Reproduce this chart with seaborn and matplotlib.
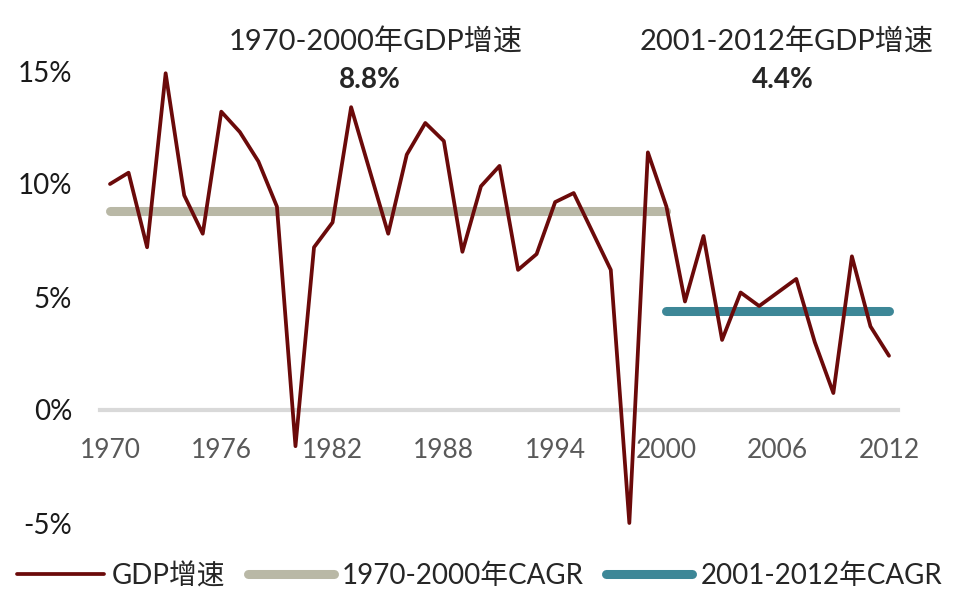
import numpy as np
import pandas as pd
import matplotlib
matplotlib.use("Agg")
import matplotlib.pyplot as plt
import seaborn as sns
from matplotlib.ticker import FuncFormatter

# ===================== DATA =====================
years = list(range(1970, 2013))
gdp_growth = [10.0, 10.5, 7.2, 14.9, 9.5, 7.8, 13.2, 12.3, 11.0, 9.0,
              -1.6, 7.2, 8.3, 13.4, 10.6, 7.8, 11.3, 12.7, 11.9, 7.0,
              9.9, 10.8, 6.2, 6.9, 9.2, 9.6, 7.9, 6.2, -5.0, 11.4,
              9.0, 4.8, 7.7, 3.1, 5.2, 4.6, 5.2, 5.8, 3.0, 0.75,
              6.8, 3.7, 2.4]

cagr1_years = [1970, 2000]
cagr1_value = 8.8
cagr2_years = [2000, 2012]
cagr2_value = 4.4

xtick_years = [1970, 1976, 1982, 1988, 1994, 2000, 2006, 2012]
ytick_vals = [-5, 0, 5, 10, 15]

legend_labels = ["GDP增速", "1970-2000年CAGR", "2001-2012年CAGR"]
title1 = "1970-2000年GDP增速"
title2 = "2001-2012年GDP增速"

# ===================== STYLE =====================
sns.set_style("white")
plt.rcParams['font.family'] = ['Lato', 'Noto Sans CJK SC', 'DejaVu Sans']

c_gdp = "#6b0a0a"
c_cagr1 = "#b9b8a6"
c_cagr2 = "#3d8797"

df = pd.DataFrame({"year": years, "gdp": gdp_growth})
df1 = pd.DataFrame({"year": cagr1_years, "v": [cagr1_value] * 2})
df2 = pd.DataFrame({"year": cagr2_years, "v": [cagr2_value] * 2})

fig = plt.figure(figsize=(9.6, 6.16), dpi=100)
ax = fig.add_axes([100 / 960, 1 - 523 / 616, 798 / 960, (523 - 71) / 616])

sns.lineplot(data=df1, x="year", y="v", ax=ax, color=c_cagr1, linewidth=6.5,
             solid_capstyle="round", label=legend_labels[1])
sns.lineplot(data=df2, x="year", y="v", ax=ax, color=c_cagr2, linewidth=6.5,
             solid_capstyle="round", label=legend_labels[2])
sns.lineplot(data=df, x="year", y="gdp", ax=ax, color=c_gdp, linewidth=2.7,
             label=legend_labels[0])

ax.set_xlim(1970 - 10 / 18.55, 2012 + 9 / 18.55)
ax.set_ylim(-5, 15)
for ln in ax.get_lines():
    ln.set_clip_on(False)

ax.set_xticks(xtick_years)
ax.set_xticklabels([str(y) for y in xtick_years])
ax.set_yticks(ytick_vals)
ax.yaxis.set_major_formatter(FuncFormatter(lambda v, p: f"{v:.0f}%"))
ax.tick_params(axis="x", length=0, pad=20, labelsize=19, colors="#595959")
ax.tick_params(axis="y", length=0, pad=20, labelsize=20, colors="#1a1a1a")

ax.set_xlabel("")
ax.set_ylabel("")
for s in ["top", "right", "left"]:
    ax.spines[s].set_visible(False)
ax.spines["bottom"].set_position(("data", 0))
ax.spines["bottom"].set_color("#d9d9d9")
ax.spines["bottom"].set_linewidth(3)
ax.spines["bottom"].set_zorder(0)

# annotations
ax.text(1984.3, 16.3, title1, ha="center", va="center", fontsize=21)
ax.text(1984.0, 14.6, f"{cagr1_value}%", ha="center", va="center",
        fontsize=20, fontweight="bold")
ax.text(2006.5, 16.3, title2, ha="center", va="center", fontsize=21)
ax.text(2006.3, 14.6, f"{cagr2_value}%", ha="center", va="center",
        fontsize=20, fontweight="bold")

# legend
handles, labels = ax.get_legend_handles_labels()
order = [labels.index(l) for l in legend_labels]
ax.legend([handles[i] for i in order], [labels[i] for i in order],
          loc="center", bbox_to_anchor=(0.5, 0.065), bbox_transform=fig.transFigure,
          ncol=3, frameon=False, fontsize=20, handlelength=3.1,
          handletextpad=0.3, columnspacing=0.8, borderaxespad=0)

fig.savefig("out.png", dpi=100)
